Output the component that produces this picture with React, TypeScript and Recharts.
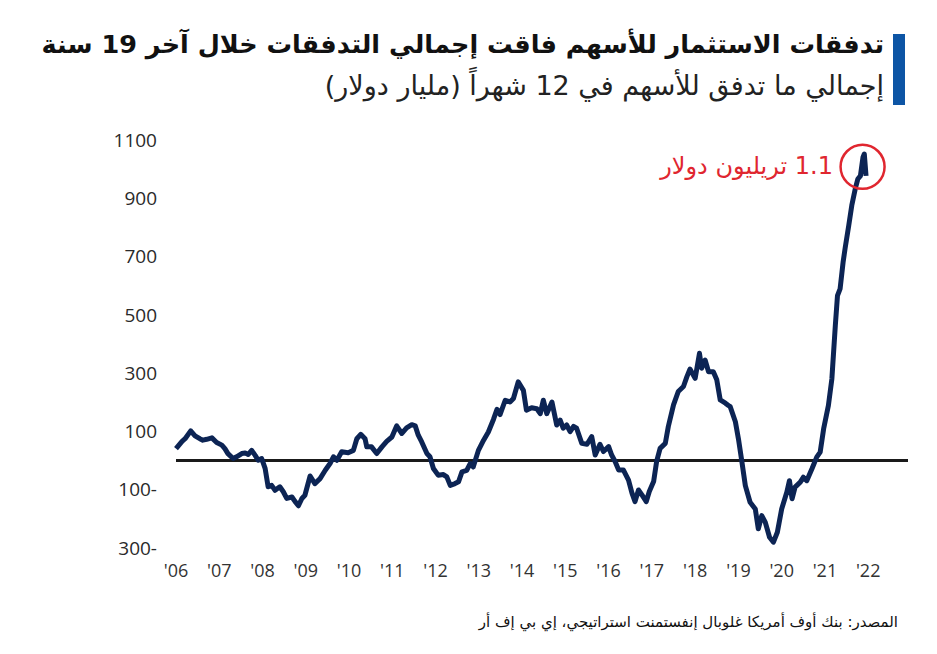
import React from "react";
import { LineChart, Line, XAxis, YAxis, ReferenceLine, ReferenceDot } from "recharts";

// السنة (عشرية) لكل قراءة
const periods = [
  2006.0, 2006.14, 2006.21, 2006.34, 2006.44, 2006.55, 2006.62, 2006.71, 2006.83, 2006.94,
  2007.06, 2007.13, 2007.2, 2007.32, 2007.4, 2007.52, 2007.6, 2007.67, 2007.75, 2007.83,
  2007.9, 2007.98, 2008.06, 2008.13, 2008.21, 2008.29, 2008.4, 2008.48, 2008.56, 2008.68,
  2008.75, 2008.83, 2008.91, 2008.98, 2009.1, 2009.21, 2009.33, 2009.45, 2009.56, 2009.64,
  2009.72, 2009.83, 2009.98, 2010.1, 2010.18, 2010.27, 2010.37, 2010.41, 2010.52, 2010.64,
  2010.76, 2010.87, 2010.99, 2011.1, 2011.22, 2011.33, 2011.45, 2011.53, 2011.6, 2011.68,
  2011.8, 2011.87, 2011.95, 2012.06, 2012.18, 2012.26, 2012.34, 2012.45, 2012.53, 2012.61,
  2012.72, 2012.8, 2012.87, 2012.99, 2013.11, 2013.22, 2013.34, 2013.42, 2013.49, 2013.61,
  2013.72, 2013.8, 2013.91, 2014.03, 2014.1, 2014.22, 2014.34, 2014.42, 2014.49, 2014.57,
  2014.69, 2014.8, 2014.88, 2014.95, 2015.03, 2015.11, 2015.19, 2015.26, 2015.38, 2015.5,
  2015.61, 2015.69, 2015.8, 2015.88, 2016.0, 2016.07, 2016.15, 2016.23, 2016.34, 2016.46,
  2016.54, 2016.61, 2016.69, 2016.77, 2016.87, 2016.94, 2017.04, 2017.11, 2017.19, 2017.31,
  2017.38, 2017.5, 2017.61, 2017.73, 2017.81, 2017.88, 2018.0, 2018.1, 2018.15, 2018.23,
  2018.31, 2018.42, 2018.5, 2018.58, 2018.7, 2018.77, 2018.81, 2018.93, 2019.0, 2019.08,
  2019.16, 2019.27, 2019.39, 2019.46, 2019.54, 2019.62, 2019.72, 2019.81, 2019.9, 2020.0,
  2020.12, 2020.18, 2020.24, 2020.31, 2020.43, 2020.5, 2020.58, 2020.7, 2020.81, 2020.89,
  2020.97, 2021.08, 2021.16, 2021.24, 2021.29, 2021.35, 2021.42, 2021.47, 2021.55, 2021.62,
  2021.7, 2021.76, 2021.82, 2021.88, 2021.91, 2021.95,
];

// التدفقات التراكمية لـ 12 شهراً (مليار دولار)
const flows = [
  41, 66, 75, 102, 85, 75, 70, 73, 78, 62,
  53, 41, 24, 7, 13, 24, 26, 21, 35, 18,
  1, 7, -27, -90, -85, -102, -90, -107, -130, -125,
  -140, -155, -130, -119, -53, -79, -62, -33, -10, 13,
  1, 30, 27, 35, 75, 90, 75, 47, 47, 24,
  47, 66, 81, 119, 93, 112, 123, 119, 87, 64,
  24, 13, -27, -50, -48, -56, -85, -79, -73, -39,
  -34, -10, -22, 35, 70, 98, 142, 176, 158, 207,
  201, 213, 270, 241, 173, 181, 178, 161, 207, 161,
  201, 122, 139, 111, 122, 99, 117, 111, 59, 56,
  82, 19, 56, 31, 48, 19, -3, -32, -32, -67,
  -112, -141, -101, -118, -141, -106, -72, -3, 42, 59,
  117, 191, 237, 254, 288, 314, 282, 368, 317, 345,
  305, 305, 277, 208, 197, 189, 185, 133, 75, -4,
  -86, -143, -166, -234, -189, -211, -263, -280, -246, -166,
  -108, -69, -131, -91, -74, -57, -69, -28, 12, 29,
  109, 189, 280, 463, 566, 589, 681, 732, 806, 875,
  932, 966, 977, 1041, 1052, 977,
];

const yearTicks = [2006, 2007, 2008, 2009, 2010, 2011, 2012, 2013, 2014, 2015, 2016, 2017, 2018, 2019, 2020, 2021, 2022];
const valueTicks = [-300, -100, 100, 300, 500, 700, 900, 1100];

// موضع دائرة التعليق عند القمة
const peakMark = { period: 2021.87, value: 1008 };

const title = "تدفقات الاستثمار للأسهم فاقت إجمالي التدفقات خلال آخر 19 سنة";
const subtitle = "إجمالي ما تدفق للأسهم في 12 شهراً (مليار دولار)";
const peakLabel = "1.1 تريليون دولار";
const source = "المصدر: بنك أوف أمريكا غلوبال إنفستمنت استراتيجي، إي بي إف أر";

const data = periods.map((p, i) => ({ period: p, flow: flows[i] }));

const arabicFont = "'DejaVu Sans', 'Noto Sans', sans-serif";
const red = "#e0262f";

export default function App() {
  return (
    <div style={{ position: "fixed", left: 0, top: 0, width: 937, height: 654, background: "#fff", overflow: "hidden" }}>
      <div
        dir="rtl"
        style={{ position: "absolute", right: 53, top: 27, fontFamily: arabicFont, fontWeight: 700, fontSize: 25.5, lineHeight: "34px", color: "#111", whiteSpace: "nowrap" }}
      >
        {title}
      </div>
      <div
        dir="rtl"
        style={{ position: "absolute", right: 53, top: 68, fontFamily: arabicFont, fontSize: 27, lineHeight: "36px", color: "#222", whiteSpace: "nowrap" }}
      >
        {subtitle}
      </div>
      <div style={{ position: "absolute", left: 893, top: 34, width: 12, height: 71, background: "#0d55a5" }} />

      <LineChart width={937} height={654} data={data} margin={{ top: 140, right: 29, bottom: 76, left: 116 }}>
        <XAxis
          dataKey="period"
          type="number"
          domain={[2006, 2022.92]}
          ticks={yearTicks}
          tickFormatter={(v: number) => "'" + String(v).slice(2)}
          axisLine={false}
          tickLine={false}
          tickMargin={10}
          height={30}
          tick={{ fill: "#333", fontSize: 18, fontFamily: "'Open Sans', sans-serif" }}
          interval={0}
        />
        <YAxis
          type="number"
          domain={[-300, 1100]}
          ticks={valueTicks}
          tickFormatter={(v: number) => (v < 0 ? `${-v}-` : `${v}`)}
          axisLine={false}
          tickLine={false}
          tickMargin={13}
          width={60}
          tick={{ fill: "#2a2a2a", fontSize: 19, fontFamily: "'Open Sans', sans-serif" }}
          interval={0}
        />
        <ReferenceLine y={0} stroke="#1a1a1a" strokeWidth={3} />
        <Line
          type="linear"
          dataKey="flow"
          stroke="#0c2454"
          strokeWidth={5}
          strokeLinejoin="round"
          dot={false}
          isAnimationActive={false}
        />
        <ReferenceDot x={peakMark.period} y={peakMark.value} r={22} fill="none" stroke={red} strokeWidth={2.5} />
      </LineChart>

      <div
        dir="rtl"
        style={{ position: "absolute", right: 104, top: 152, fontFamily: arabicFont, fontSize: 24, color: red, whiteSpace: "nowrap" }}
      >
        {peakLabel}
      </div>
      <div
        dir="rtl"
        style={{ position: "absolute", right: 39, top: 613, fontFamily: arabicFont, fontSize: 15, color: "#111", whiteSpace: "nowrap" }}
      >
        {source}
      </div>
    </div>
  );
}
